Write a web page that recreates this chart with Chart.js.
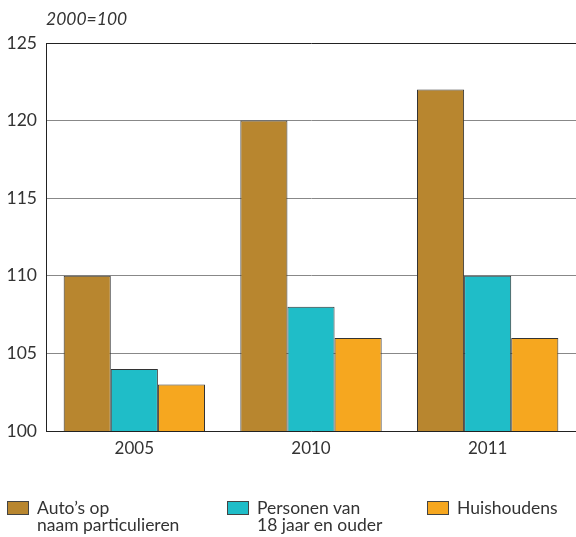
<!DOCTYPE html>
<html>
<head>
<meta charset="utf-8">
<script src="https://cdn.jsdelivr.net/npm/chart.js@4"></script>
<style>
  body { margin: 0; background: #fff; font-family: Lato, "Open Sans", sans-serif; color: #333; }
  #wrap { position: relative; width: 576px; height: 537px; }
  #chart { position: absolute; left: 0; top: 0; }
  #unit { position: absolute; left: 46px; top: 8px; font-size: 17.5px; font-style: italic; color: #333; }
  .item { position: absolute; top: 499px; font-size: 17.5px; line-height: 17px; }
  .box { position: absolute; left: 0; top: 2px; width: 20px; height: 12px; border: 1px solid #444; }
  .txt { position: absolute; left: 30px; top: 0; white-space: nowrap; }
</style>
</head>
<body>
<div id="wrap">
  <canvas id="chart" width="576" height="537"></canvas>
  <div id="unit">2000=100</div>
  <div id="legend"></div>
</div>
<script>
//data
const years = ["2005", "2010", "2011"];
const seriesNames = [["Auto\u2019s op", "naam particulieren"], ["Personen van", "18 jaar en ouder"], ["Huishoudens"]];
const autos = [110, 120, 122];
const personen = [104, 108, 110];
const huishoudens = [103, 106, 106];
const colors = ["#B8862F", "#1FBDC8", "#F6A71F"];

//html legend
const legend = document.querySelector('#legend');
const legendLeft = [7, 227, 427];
seriesNames.forEach(function (lines, i) {
    const item = document.createElement('div');
    item.className = 'item';
    item.style.left = legendLeft[i] + 'px';
    item.innerHTML = '<div class="box" style="background:' + colors[i] + '"></div><div class="txt">' + lines.join('<br>') + '</div>';
    legend.appendChild(item);
});

//draw chart
let ctx = document.querySelector('#chart').getContext('2d');
let barChart = new Chart(ctx, {
  type: 'bar',
  data: {
    labels: years,
    datasets: [
      { label: seriesNames[0].join(' '), data: autos, backgroundColor: colors[0] },
      { label: seriesNames[1].join(' '), data: personen, backgroundColor: colors[1] },
      { label: seriesNames[2].join(' '), data: huishoudens, backgroundColor: colors[2] }
    ]
  },
  options: {
    responsive: false,
    animation: false,
    layout: { padding: { top: 43, right: 0, left: 0, bottom: 0 } },
    datasets: {
      bar: { categoryPercentage: 0.8, barPercentage: 1, borderWidth: 1, borderColor: '#333', borderSkipped: false }
    },
    plugins: {
      legend: { display: false },
      tooltip: { enabled: false }
    },
    scales: {
      x: {
        grid: { display: false, drawTicks: false },
        border: { color: '#222', width: 1 },
        ticks: { color: '#333', font: { family: 'Lato', size: 17 }, padding: 7 },
        afterFit: function (scale) { scale.height = 106; }
      },
      y: {
        min: 100,
        max: 125,
        ticks: { stepSize: 5, color: '#333', font: { family: 'Lato', size: 17.5 }, padding: 9 },
        grid: {
          drawTicks: false,
          lineWidth: 1,
          color: function (c) { return c.tick && c.tick.value === 125 ? '#222' : '#888'; }
        },
        border: { color: '#222', width: 1 },
        afterFit: function (scale) { scale.width = 46; }
      }
    }
  }
});
</script>
</body>
</html>
